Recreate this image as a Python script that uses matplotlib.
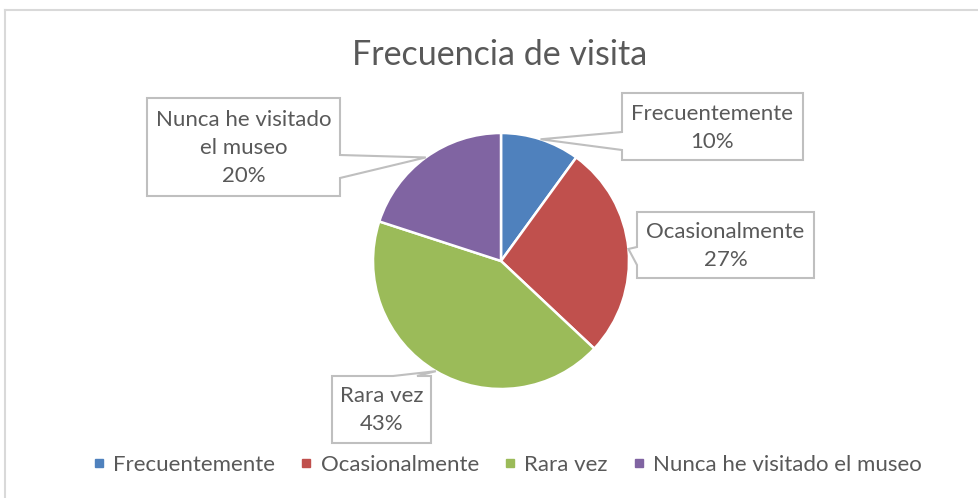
import textwrap
import numpy as np
import matplotlib.pyplot as plt
from matplotlib.patches import Polygon
from matplotlib.lines import Line2D

# data
categories = ["Frecuentemente", "Ocasionalmente", "Rara vez", "Nunca he visitado el museo"]
percentages = [10, 27, 43, 20]
colors = ["#4F81BD", "#C0504D", "#9BBB59", "#8064A2"]
title = "Frecuencia de visita"

plt.rcParams["font.family"] = ["Lato", "DejaVu Sans"]
text_color = "#595959"
box_edge = "#BFBFBF"

W, H = 979, 498
fig = plt.figure(figsize=(W / 100, H / 100), dpi=100)
ax = fig.add_axes([0, 0, 1, 1])

# pie in pixel space (y pointing up)
cx, cy, r = 501, H - 261, 128
wedges, _ = ax.pie(percentages, colors=colors, startangle=90, counterclock=False,
                   center=(cx, cy), radius=r,
                   wedgeprops=dict(edgecolor="white", linewidth=1.8))
ax.set_xlim(0, W)
ax.set_ylim(0, H)
ax.set_aspect("equal")
ax.axis("off")

# callout boxes: (left, top, right, bottom) in image pixels, side of pointer, pointer base
boxes = [
    ((622, 93, 803, 160), "left", (132, 150)),
    ((637, 212, 814, 278), "left", (247, 265)),
    ((332, 376, 431, 443), "top", (393, 417)),
    ((147, 98, 340, 196), "right", (155, 178)),
]

for w, name, pct, (box, side, base) in zip(wedges, categories, percentages, boxes):
    mid = np.deg2rad((w.theta1 + w.theta2) / 2)
    tip = (cx + r * np.cos(mid), cy + r * np.sin(mid))
    l, t, rr, b = box
    t, b = H - t, H - b
    if side == "left":
        b0, b1 = H - base[0], H - base[1]
        verts = [(l, t), (rr, t), (rr, b), (l, b), (l, b1), tip, (l, b0)]
    elif side == "right":
        b0, b1 = H - base[0], H - base[1]
        verts = [(l, t), (rr, t), (rr, b0), tip, (rr, b1), (rr, b), (l, b)]
    else:
        verts = [(l, t), (base[0], t), tip, (base[1], t), (rr, t), (rr, b), (l, b)]
    ax.add_patch(Polygon(verts, closed=True, facecolor="white", edgecolor=box_edge,
                         linewidth=1.5, zorder=3))
    label = textwrap.fill(name, 17) + f"\n{pct}%"
    ax.text((l + rr) / 2, (t + b) / 2 - 1, label, ha="center", va="center",
            fontsize=16, color=text_color, linespacing=1.5, zorder=4)

# title
ax.text(500, H - 55, title, ha="center", va="center", fontsize=24.5, color=text_color)

# chart border (top and left visible)
ax.plot([5, 5], [0, H - 10], color="#D9D9D9", linewidth=1.5, clip_on=False)
ax.plot([5, W], [H - 10, H - 10], color="#D9D9D9", linewidth=1.5, clip_on=False)

# legend
handles = [Line2D([], [], marker="s", linestyle="", color=c, markersize=6) for c in colors]
fig.legend(handles, categories, loc="center", bbox_to_anchor=(507 / W, (H - 465) / H),
           ncol=4, frameon=False, fontsize=16, labelcolor=text_color,
           handlelength=0.6, handletextpad=0.35, columnspacing=1.1)

fig.savefig("out.png", dpi=100, facecolor="white")
